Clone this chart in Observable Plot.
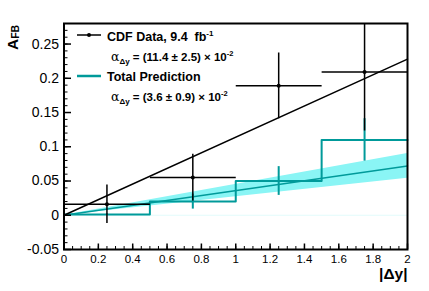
<!DOCTYPE html>
<html><head><meta charset="utf-8">
<script src="https://cdn.jsdelivr.net/npm/d3@7"></script>
<script src="https://cdn.jsdelivr.net/npm/@observablehq/plot@0.6"></script>
<style>body{margin:0;background:#fff} svg{display:block}</style>
</head><body><div id="chart"></div>
<script>
// bins of |Δy|
const binLo = [0, 0.5, 1.0, 1.5];
const binHi = [0.5, 1.0, 1.5, 2.0];
const binCenter = [0.25, 0.75, 1.25, 1.75];
// CDF data
const cdfValue = [0.016, 0.055, 0.189, 0.209];
const cdfError = [0.028, 0.034, 0.048, 0.086];
// Total prediction
const predValue = [0.001, 0.020, 0.050, 0.110];
const predError = [0.001, 0.011, 0.021, 0.031];
// linear fits A = α·|Δy|
const cdfSlope = 0.114, cdfSlopeErr = 0.025;
const predSlope = 0.036, predSlopeErr = 0.009;
const fitRange = [0, 2];
// ticks
const yMajorTicks = [-0.05, 0, 0.05, 0.1, 0.15, 0.2, 0.25];
const xMajorTicks = [0, 0.2, 0.4, 0.6, 0.8, 1, 1.2, 1.4, 1.6, 1.8, 2];
const yMinorTicks = d3.range(-50, 281, 10).map(v => v / 1000);
const xMinorTicks = d3.range(0, 201, 5).map(v => v / 100);

const teal = "#009a9a";
const band = "#8af5f5";
const idx = d3.range(binCenter.length);
const stepPts = idx.map(i => ({x: binLo[i], y: predValue[i]})).concat([{x: binHi[binHi.length - 1], y: predValue[predValue.length - 1]}]);
const fmt = d => String(+d.toFixed(2));

const chart = Plot.plot({
  width: 429, height: 291,
  marginLeft: 63.5, marginRight: 22, marginTop: 23, marginBottom: 42,
  x: {domain: [0, 2], axis: null},
  y: {domain: [-0.05, 0.28], axis: null},
  style: {fontFamily: "'Liberation Sans', Arial, sans-serif", background: "white", color: "black"},
  marks: [
    Plot.areaY(fitRange, {x: d => d, y1: d => (predSlope - predSlopeErr) * d, y2: d => (predSlope + predSlopeErr) * d, fill: band}),
    Plot.ruleY([0], {x1: fitRange[0], x2: fitRange[1], stroke: "#e2fbfb", strokeWidth: 1}),
    Plot.line(stepPts, {x: "x", y: "y", curve: "step-after", stroke: teal, strokeWidth: 2}),
    Plot.ruleX(idx, {x: i => binCenter[i], y1: i => predValue[i] - predError[i], y2: i => predValue[i] + predError[i], stroke: teal, strokeWidth: 2}),
    Plot.line(fitRange, {x: d => d, y: d => predSlope * d, stroke: teal, strokeWidth: 1.5}),
    Plot.line(fitRange, {x: d => d, y: d => cdfSlope * d, stroke: "black", strokeWidth: 1.5}),
    Plot.link(idx, {x1: i => binLo[i], x2: i => binHi[i], y1: i => cdfValue[i], y2: i => cdfValue[i], stroke: "black", strokeWidth: 1.5}),
    Plot.ruleX(idx, {x: i => binCenter[i], y1: i => cdfValue[i] - cdfError[i], y2: i => cdfValue[i] + cdfError[i], stroke: "black", strokeWidth: 1.5, clip: true}),
    Plot.dot(idx, {x: i => binCenter[i], y: i => cdfValue[i], r: 2, fill: "black"}),
    Plot.axisY(yMinorTicks, {anchor: "left", tickSize: -4, tickFormat: () => "", strokeWidth: 1, label: null}),
    Plot.axisY(yMajorTicks, {anchor: "left", tickSize: -7.5, tickPadding: 12.5, tickFormat: fmt, fontSize: 14, strokeWidth: 1.5, label: null}),
    Plot.axisX(xMinorTicks, {anchor: "bottom", tickSize: -3, tickFormat: () => "", strokeWidth: 1, label: null}),
    Plot.axisX(xMajorTicks, {anchor: "bottom", tickSize: -5.5, tickPadding: 10.5, tickFormat: fmt, fontSize: 11.5, strokeWidth: 1.5, label: null}),
    Plot.frame({stroke: "black", strokeWidth: 2})
  ]
});
document.getElementById("chart").appendChild(chart);

// annotations: axis titles and legend
const svg = d3.select(chart);
const g = svg.append("g").attr("font-family", "'Liberation Sans', Arial, sans-serif")
  .attr("fill", "black").attr("text-anchor", "start");

// x title
g.append("text").attr("x", 407.5).attr("y", 278.5).attr("text-anchor", "end")
  .attr("font-size", 15.5).attr("font-weight", "bold").text("|Δy|");

// y title
const yt = g.append("text").attr("transform", "translate(18,50) rotate(-90)")
  .attr("font-size", 15.5).attr("font-weight", "bold");
yt.append("tspan").text("A");
yt.append("tspan").attr("font-size", 10.5).attr("dy", 1).text("FB");

// legend entries
const leg = [
  {color: "black", lineY: 35, title: "CDF Data, 9.4  fb", sup: "-1", textY: 40.5, alpha: "(11.4 ± 2.5)", alphaY: 60.5, dot: true},
  {color: teal, lineY: 76, title: "Total Prediction", sup: "", textY: 81, alpha: "(3.6 ± 0.9)", alphaY: 101, dot: false}
];
leg.forEach(e => {
  g.append("line").attr("x1", 77).attr("x2", 101).attr("y1", e.lineY).attr("y2", e.lineY)
    .attr("stroke", e.color).attr("stroke-width", e.dot ? 1.5 : 2.5);
  if (e.dot) g.append("circle").attr("cx", 89).attr("cy", e.lineY).attr("r", 2).attr("fill", "black");
  const t = g.append("text").attr("x", 107).attr("y", e.textY).attr("font-size", 12.5).attr("font-weight", "bold");
  t.append("tspan").text(e.title);
  if (e.sup) t.append("tspan").attr("font-size", 8).attr("dy", -5).text(e.sup);
  const a = g.append("text").attr("x", 111).attr("y", e.alphaY).attr("font-size", 11.5).attr("font-weight", "bold");
  a.append("tspan").attr("font-weight", "normal").attr("font-family", "'DejaVu Serif', serif").attr("font-size", 12.5).text("α");
  a.append("tspan").attr("font-size", 8).attr("dy", 3).text("Δy");
  a.append("tspan").attr("dy", -3).text(" = " + e.alpha + " × 10");
  a.append("tspan").attr("font-size", 7.5).attr("dy", -5).text("-2");
});
</script>
</body></html>
